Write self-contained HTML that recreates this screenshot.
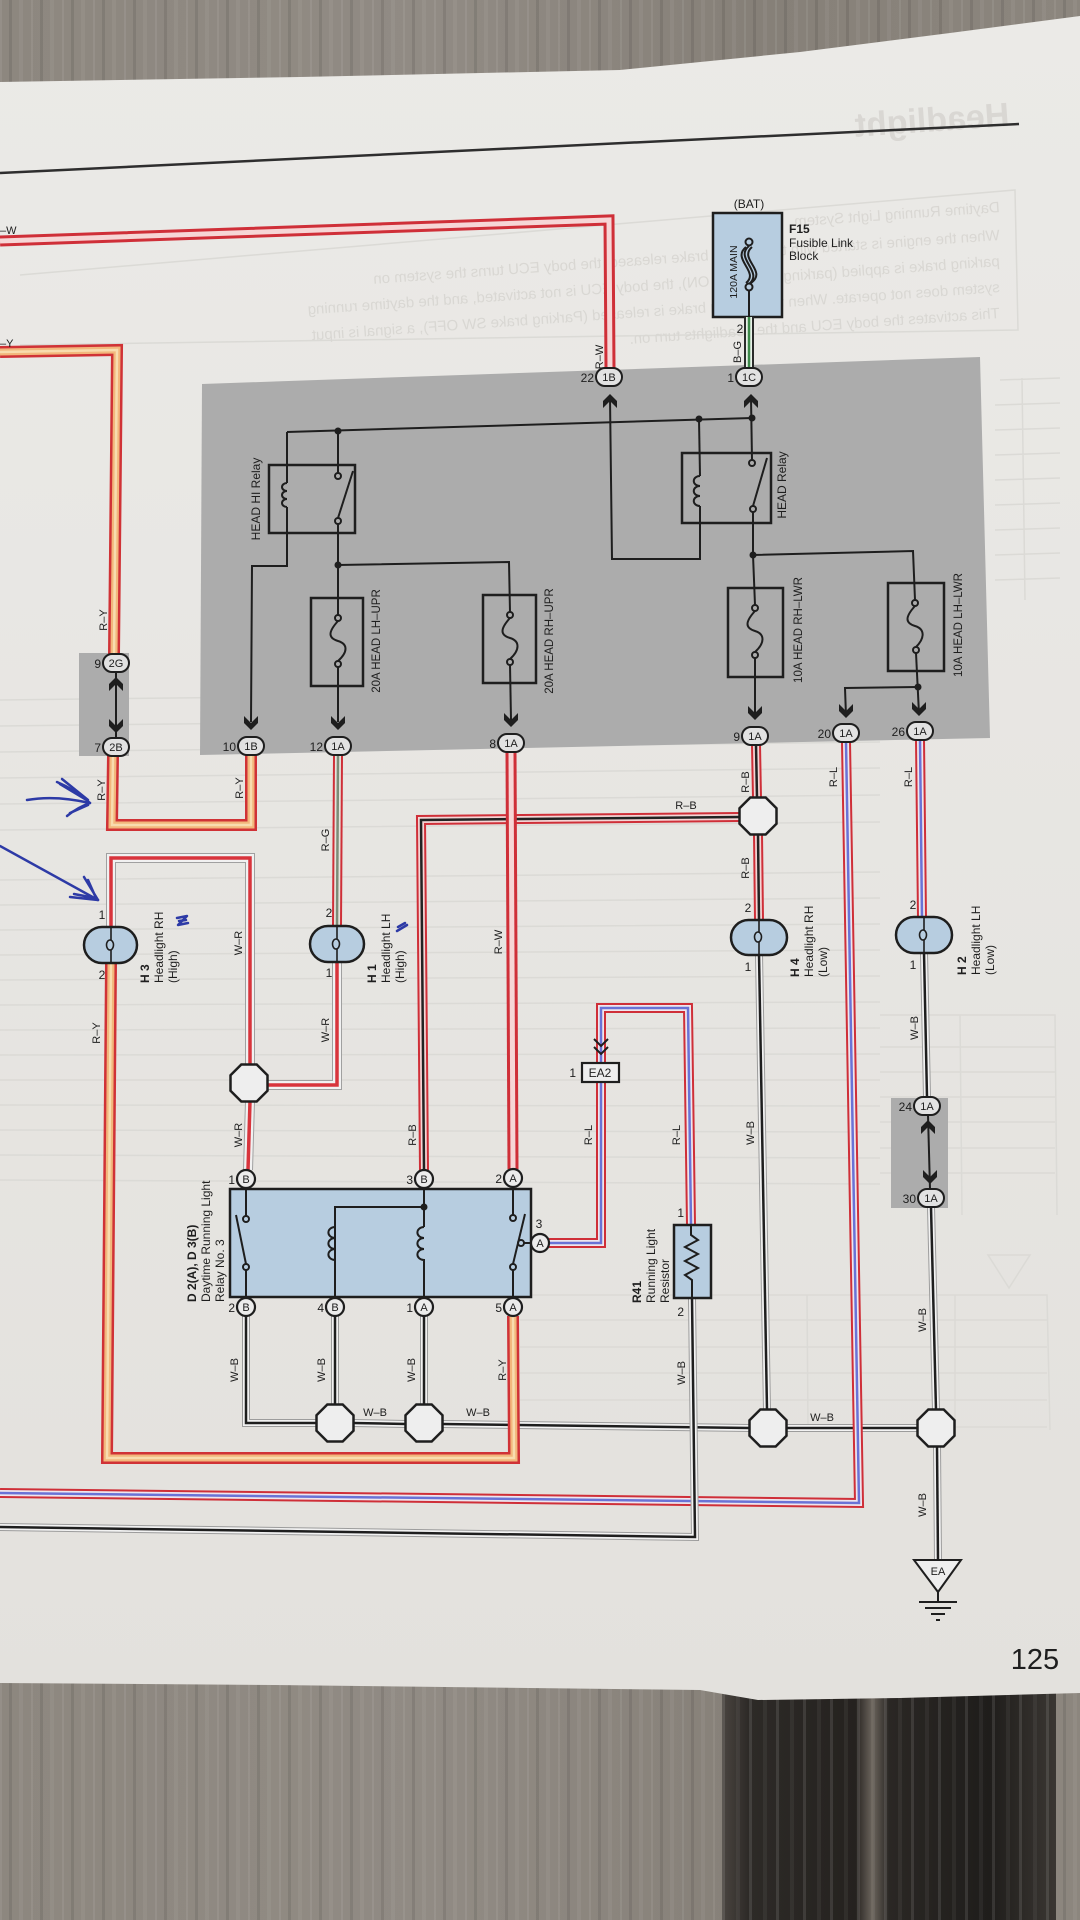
<!DOCTYPE html>
<html><head><meta charset="utf-8">
<style>
html,body{margin:0;padding:0;width:1080px;height:1920px;overflow:hidden;}
body{position:relative;background:#8a857e;}
.wood{position:absolute;left:0;top:0;width:1080px;height:1920px;
background:
repeating-linear-gradient(90deg,rgba(255,255,255,0.07) 0 2px,rgba(0,0,0,0) 2px 9px,rgba(0,0,0,0.09) 9px 12px,rgba(0,0,0,0) 12px 19px,rgba(255,255,255,0.05) 19px 23px,rgba(0,0,0,0) 23px 31px),
linear-gradient(90deg,#8d877f,#918b84 40%,#868078 70%,#8c867e);}
.dark{position:absolute;left:722px;top:1680px;width:334px;height:240px;
background:
repeating-linear-gradient(90deg,rgba(255,255,255,0.10) 0 3px,rgba(0,0,0,0) 3px 14px,rgba(255,255,255,0.05) 14px 18px,rgba(0,0,0,0) 18px 27px),
linear-gradient(90deg,#4a4540 0,#2d2a27 8%,#25221f 40%,#6b645c 45%,#2a2724 50%,#1f1d1b 80%,#3a3632 100%);}
svg{position:absolute;left:0;top:0;}
text{font-family:"Liberation Sans",Arial,sans-serif;fill:#1e1e1e;}
.wl{font-size:11px;}
.cl{font-size:12px;}
.fl{font-size:11.5px;}
.pn{font-size:12px;}
.faint{fill:#d9d7d3;}
</style></head>
<body>
<div class="wood"></div>
<div class="dark"></div>
<svg width="1080" height="1920" viewBox="0 0 1080 1920">
<defs>
<linearGradient id="pg" x1="0" y1="0" x2="0" y2="1">
<stop offset="0" stop-color="#ebeae7"/><stop offset="1" stop-color="#e3e1dd"/>
</linearGradient>
<path id="rw1" d="M0,241 L609,220 L610,368"/>
<path id="ry1" d="M0,352 L117,350 L114,654"/>
<path id="ry2" d="M113,756 L112,825 L251,825 L251,755"/>
<path id="wr1" d="M111,927 L111,858 L250,858 L250,1066"/>
<path id="ry3" d="M111,963 L107,1458 L514,1458 L513,1316"/>
<path id="rg1" d="M338,755 L337,926"/>
<path id="wr2" d="M337,962 L337,1085 L268,1085"/>
<path id="wr3" d="M250,1101 L248,1170"/>
<path id="rw2" d="M511,752 L513,1169"/>
<path id="rb1" d="M740,817 L421,820 L424,1170"/>
<path id="rb2" d="M756,745 L757,798"/>
<path id="rb3" d="M758,834 L759,920"/>
<path id="wb1" d="M759,954 L767,1410"/>
<path id="rl1" d="M846,742 L859,1503 L0,1493"/>
<path id="rl2" d="M920,740 L922,918"/>
<path id="wb2" d="M924,953 L927,1097"/>
<path id="wb3" d="M931,1207 L936,1410"/>
<path id="wb4" d="M937,1446 L938,1560"/>
<path id="wb5" d="M246,1316 L246,1423 L317,1423"/>
<path id="wb6" d="M353,1423 L406,1424"/>
<path id="wb7" d="M442,1424 L750,1428"/>
<path id="wb8" d="M786,1428 L918,1428"/>
<path id="wb9" d="M335,1316 L335,1405"/>
<path id="wb10" d="M424,1316 L424,1405"/>
<path id="wb11" d="M692,1298 L695,1537 L0,1527"/>
<path id="rl3" d="M549,1243 L601,1243 L601,1082"/>
<path id="rl4" d="M601,1063 L601,1008 L688,1008 L691,1225"/>
<path id="bg" d="M749,317 L749,369"/>
<path id="arD" d="M-7,-14 L0,-7 L7,-14 L7,-7 L0,0 L-7,-7 Z"/>
<path id="oct" d="M-7.7,-18.5 L7.7,-18.5 L18.5,-7.7 L18.5,7.7 L7.7,18.5 L-7.7,18.5 L-18.5,7.7 L-18.5,-7.7 Z"/>
</defs>

<!-- paper -->
<polygon points="0,82 300,77 620,70 800,52 950,33 1080,16 1080,1693 900,1698 758,1700 700,1690 275,1685 0,1683" fill="url(#pg)"/>

<!-- faint bleed-through -->
<g stroke="#dbdad6" stroke-width="1.5" fill="none">
<path d="M0,700 L880,690 M0,726 L880,716 M0,752 L880,742 M0,778 L880,768 M0,804 L880,795 M0,830 L880,822 M0,880 L880,872 M0,905 L880,898 M0,930 L880,924 M0,955 L880,950 M0,980 L880,976 M0,1005 L880,1002 M0,1030 L880,1028 M0,1055 L880,1054 M0,1080 L880,1080 M0,1105 L880,1106 M0,1130 L880,1132 M0,1155 L880,1158 M0,1180 L880,1184"/>
<path d="M1000,380 L1060,378 M995,405 L1060,403 M995,430 L1060,428 M995,455 L1060,453 M995,480 L1060,478 M995,505 L1060,503 M995,530 L1060,528 M995,555 L1060,553 M995,580 L1060,578 M1022,378 L1025,600"/>
<path d="M880,1015 L1055,1015 L1057,1215 M880,1047 L1055,1047 M880,1072 L1055,1072 M880,1097 L1055,1097 M880,1122 L1055,1122 M880,1148 L1055,1148 M880,1173 L1055,1173 M960,1015 L962,1215"/>
<path d="M520,1295 L1047,1295 L1050,1430 M520,1320 L1047,1320 M520,1347 L1047,1347 M520,1373 L1047,1373 M520,1400 L1047,1400 M520,1427 L1047,1427 M807,1295 L808,1427 M955,1295 L955,1427"/>
<path d="M988,1255 L1030,1255 L1009,1288 Z"/>
<path d="M20,275 L1015,190 L1018,330 L20,345"/>
</g>
<g font-size="15">
<text transform="translate(1000,212) scale(-1,1) rotate(4)" class="faint">Daytime Running Light System</text>
<text transform="translate(1000,240) scale(-1,1) rotate(4)" class="faint">When the engine is started with the parking brake released, the body ECU turns the system on</text>
<text transform="translate(1000,266) scale(-1,1) rotate(4)" class="faint">parking brake is applied (parking brake SW ON), the body ECU is not activated, and the daytime running</text>
<text transform="translate(1000,292) scale(-1,1) rotate(4)" class="faint">system does not operate. When the parking brake is released (Parking brake SW OFF), a signal is input</text>
<text transform="translate(1000,318) scale(-1,1) rotate(4)" class="faint">This activates the body ECU and the headlights turn on.</text>
<text transform="translate(1010,126) scale(-1,1) rotate(4)" class="faint" font-size="34" font-weight="bold">Headlight</text>
</g>

<!-- header line -->
<path d="M0,173 L1019,124" stroke="#2e2e2e" stroke-width="2.5" fill="none"/>

<!-- gray boxes -->
<polygon points="202,384 980,357 990,738 200,755" fill="#acacac"/>
<rect x="79" y="653" width="50" height="103" fill="#acacac"/>
<rect x="891" y="1098" width="57" height="110" fill="#acacac"/>

<!-- F15 -->
<rect x="713" y="213" width="69" height="104" fill="#b7cde0" stroke="#1e1e1e" stroke-width="2.5"/>
<g fill="none" stroke="#1e1e1e" stroke-width="2">
<circle cx="749" cy="242" r="3.5"/><circle cx="749" cy="287" r="3.5"/>
<path d="M749,246 C734,258 764,272 749,284"/>
<path d="M752,247 C738,259 768,271 751,283"/>
<path d="M746,247 C731,259 760,272 746,283"/>
<path d="M749,291 L749,317"/>
</g>

<!-- WIRES -->
<g fill="none" stroke-linejoin="miter">
<use href="#wb7" stroke="#9c9c9c" stroke-width="8"/><use href="#wb7" stroke="#f2f2f2" stroke-width="6"/><use href="#wb7" stroke="#1e1e1e" stroke-width="2.5"/>
<use href="#wb8" stroke="#9c9c9c" stroke-width="8"/><use href="#wb8" stroke="#f2f2f2" stroke-width="6"/><use href="#wb8" stroke="#1e1e1e" stroke-width="2.5"/>
<use href="#wb5" stroke="#9c9c9c" stroke-width="8"/><use href="#wb5" stroke="#f2f2f2" stroke-width="6"/><use href="#wb5" stroke="#1e1e1e" stroke-width="2.5"/>
<use href="#wb6" stroke="#9c9c9c" stroke-width="8"/><use href="#wb6" stroke="#f2f2f2" stroke-width="6"/><use href="#wb6" stroke="#1e1e1e" stroke-width="2.5"/>
<use href="#wb9" stroke="#9c9c9c" stroke-width="8"/><use href="#wb9" stroke="#f2f2f2" stroke-width="6"/><use href="#wb9" stroke="#1e1e1e" stroke-width="2.5"/>
<use href="#wb10" stroke="#9c9c9c" stroke-width="8"/><use href="#wb10" stroke="#f2f2f2" stroke-width="6"/><use href="#wb10" stroke="#1e1e1e" stroke-width="2.5"/>
<use href="#wb1" stroke="#9c9c9c" stroke-width="8"/><use href="#wb1" stroke="#f2f2f2" stroke-width="6"/><use href="#wb1" stroke="#1e1e1e" stroke-width="2.5"/>
<use href="#wb2" stroke="#9c9c9c" stroke-width="8"/><use href="#wb2" stroke="#f2f2f2" stroke-width="6"/><use href="#wb2" stroke="#1e1e1e" stroke-width="2.5"/>
<use href="#wb3" stroke="#9c9c9c" stroke-width="8"/><use href="#wb3" stroke="#f2f2f2" stroke-width="6"/><use href="#wb3" stroke="#1e1e1e" stroke-width="2.5"/>
<use href="#wb4" stroke="#9c9c9c" stroke-width="8"/><use href="#wb4" stroke="#f2f2f2" stroke-width="6"/><use href="#wb4" stroke="#1e1e1e" stroke-width="2.5"/>

<use href="#rw1" stroke="#cf2f38" stroke-width="11"/><use href="#rw1" stroke="#f6d6d6" stroke-width="5"/>
<use href="#ry1" stroke="#d03236" stroke-width="12"/><use href="#ry1" stroke="#f2b77c" stroke-width="7"/><use href="#ry1" stroke="#f8dcae" stroke-width="2.5"/>
<use href="#ry2" stroke="#d03236" stroke-width="12"/><use href="#ry2" stroke="#f2b77c" stroke-width="7"/><use href="#ry2" stroke="#f8dcae" stroke-width="2.5"/>
<use href="#ry3" stroke="#d03236" stroke-width="12"/><use href="#ry3" stroke="#f2b77c" stroke-width="7"/><use href="#ry3" stroke="#f8dcae" stroke-width="2.5"/>
<use href="#wr1" stroke="#a0a0a0" stroke-width="10"/><use href="#wr1" stroke="#f1f1f1" stroke-width="8"/><use href="#wr1" stroke="#d8343c" stroke-width="3.5"/>
<use href="#wr2" stroke="#a0a0a0" stroke-width="10"/><use href="#wr2" stroke="#f1f1f1" stroke-width="8"/><use href="#wr2" stroke="#d8343c" stroke-width="3.5"/>
<use href="#wr3" stroke="#a0a0a0" stroke-width="10"/><use href="#wr3" stroke="#f1f1f1" stroke-width="8"/><use href="#wr3" stroke="#d8343c" stroke-width="3.5"/>
<use href="#rg1" stroke="#cf2f38" stroke-width="10"/><use href="#rg1" stroke="#e6e4dc" stroke-width="6"/><use href="#rg1" stroke="#7c8c78" stroke-width="2.5"/>
<use href="#rb1" stroke="#cf2f38" stroke-width="10"/><use href="#rb1" stroke="#f4d5d5" stroke-width="6"/><use href="#rb1" stroke="#222" stroke-width="2.5"/>
<use href="#rb2" stroke="#cf2f38" stroke-width="10"/><use href="#rb2" stroke="#f4d5d5" stroke-width="6"/><use href="#rb2" stroke="#222" stroke-width="2.5"/>
<use href="#rb3" stroke="#cf2f38" stroke-width="10"/><use href="#rb3" stroke="#f4d5d5" stroke-width="6"/><use href="#rb3" stroke="#222" stroke-width="2.5"/>
<use href="#rw2" stroke="#cf2f38" stroke-width="11"/><use href="#rw2" stroke="#f6d6d6" stroke-width="5"/>
<use href="#rl1" stroke="#cf2f38" stroke-width="10"/><use href="#rl1" stroke="#eee6ee" stroke-width="6"/><use href="#rl1" stroke="#6a72d6" stroke-width="2.5"/>
<use href="#rl2" stroke="#cf2f38" stroke-width="10"/><use href="#rl2" stroke="#eee6ee" stroke-width="6"/><use href="#rl2" stroke="#6a72d6" stroke-width="2.5"/>
<use href="#rl3" stroke="#cf2f38" stroke-width="10"/><use href="#rl3" stroke="#eee6ee" stroke-width="6"/><use href="#rl3" stroke="#6a72d6" stroke-width="2.5"/>
<use href="#rl4" stroke="#cf2f38" stroke-width="10"/><use href="#rl4" stroke="#eee6ee" stroke-width="6"/><use href="#rl4" stroke="#6a72d6" stroke-width="2.5"/>
<use href="#wb11" stroke="#9c9c9c" stroke-width="8"/><use href="#wb11" stroke="#f2f2f2" stroke-width="6"/><use href="#wb11" stroke="#1e1e1e" stroke-width="2.5"/>
<use href="#bg" stroke="#2a2a2a" stroke-width="10"/><use href="#bg" stroke="#e9f2e9" stroke-width="6"/><use href="#bg" stroke="#3e8a4a" stroke-width="2.5"/>
</g>

<!-- gray box internal circuitry -->
<g fill="none" stroke="#1e1e1e" stroke-width="2">
<path d="M287,432 L752,418"/>
<path d="M287,432 L287,483"/>
<path d="M287,483 a5,4 0 1 0 0,8 a5,4 0 1 0 0,8 a5,4 0 1 0 0,8"/>
<path d="M287,507 L287,566 L252,566 L251,722"/>
<rect x="269" y="465" width="86" height="68" stroke-width="2.5"/>
<path d="M338,431 L338,473"/><circle cx="338" cy="476" r="3"/><circle cx="338" cy="521" r="3"/>
<path d="M338,518 L353,471"/>
<path d="M338,524 L338,615"/>
<circle cx="338" cy="618" r="3"/><circle cx="338" cy="664" r="3"/>
<path d="M338,621 C328,632 328,638 338,641 C348,644 348,652 338,661"/>
<path d="M338,667 L338,722"/>
<rect x="311" y="598" width="52" height="88" stroke-width="2.5"/>
<path d="M338,565 L509,562 L510,612"/>
<circle cx="510" cy="615" r="3"/><circle cx="510" cy="662" r="3"/>
<path d="M510,618 C500,629 500,635 510,638 C520,641 520,650 510,659"/>
<path d="M510,665 L511,720"/>
<rect x="483" y="595" width="53" height="88" stroke-width="2.5"/>
<path d="M610,398 L612,559 L700,559 L700,506"/>
<path d="M699,419 L700,476"/>
<path d="M700,476 a5,4 0 1 0 0,10 a5,4 0 1 0 0,10 a5,4 0 1 0 0,10"/>
<rect x="682" y="453" width="89" height="70" stroke-width="2.5"/>
<path d="M751,398 L752,460"/><circle cx="752" cy="463" r="3"/><circle cx="753" cy="509" r="3"/>
<path d="M753,506 L767,458"/>
<path d="M753,512 L753,555 L755,605"/>
<path d="M753,555 L913,551 L915,600"/>
<circle cx="755" cy="608" r="3"/><circle cx="755" cy="655" r="3"/>
<path d="M755,611 C745,622 745,628 755,631 C765,634 765,643 755,652"/>
<path d="M755,658 L755,718"/>
<rect x="728" y="588" width="55" height="89" stroke-width="2.5"/>
<circle cx="915" cy="603" r="3"/><circle cx="916" cy="650" r="3"/>
<path d="M915,606 C905,617 905,623 915,626 C925,629 925,638 916,647"/>
<path d="M916,653 L919,714"/>
<path d="M918,687 L845,688 L846,716"/>
<rect x="888" y="583" width="56" height="88" stroke-width="2.5"/>
<path d="M116,672 L116,738"/>
<path d="M928,1115 L930,1189"/>
</g>
<g fill="#1e1e1e">
<circle cx="338" cy="431" r="3.5"/><circle cx="338" cy="565" r="3.5"/>
<circle cx="699" cy="419" r="3.5"/><circle cx="752" cy="418" r="3.5"/>
<circle cx="753" cy="555" r="3.5"/><circle cx="918" cy="687" r="3.5"/>
</g>

<!-- arrowheads -->
<g fill="#1e1e1e">
<use href="#arD" transform="translate(251,730)"/>
<use href="#arD" transform="translate(338,730)"/>
<use href="#arD" transform="translate(511,727)"/>
<use href="#arD" transform="translate(755,720)"/>
<use href="#arD" transform="translate(846,718)"/>
<use href="#arD" transform="translate(919,716)"/>
<use href="#arD" transform="translate(610,394) scale(1,-1)"/>
<use href="#arD" transform="translate(751,394) scale(1,-1)"/>
<use href="#arD" transform="translate(116,677) scale(1,-1)"/>
<use href="#arD" transform="translate(116,733)"/>
<use href="#arD" transform="translate(928,1120) scale(1,-1)"/>
<use href="#arD" transform="translate(930,1184)"/>
</g>

<!-- connector pills -->
<g stroke="#1e1e1e" stroke-width="2" fill="#e2e2e2">
<rect x="596" y="368" width="26" height="18" rx="9"/>
<rect x="736" y="368" width="26" height="18" rx="9"/>
<rect x="238" y="737" width="26" height="18" rx="9"/>
<rect x="325" y="737" width="26" height="18" rx="9"/>
<rect x="498" y="734" width="26" height="18" rx="9"/>
<rect x="742" y="727" width="26" height="18" rx="9"/>
<rect x="833" y="724" width="26" height="18" rx="9"/>
<rect x="907" y="722" width="26" height="18" rx="9"/>
<rect x="103" y="654" width="26" height="18" rx="9"/>
<rect x="103" y="738" width="26" height="18" rx="9"/>
<rect x="914" y="1097" width="26" height="18" rx="9"/>
<rect x="918" y="1189" width="26" height="18" rx="9"/>
</g>
<g text-anchor="middle" font-size="11">
<text x="609" y="381" font-size="11">1B</text>
<text x="749" y="381" font-size="11">1C</text>
<text x="251" y="750" font-size="11">1B</text>
<text x="338" y="750" font-size="11">1A</text>
<text x="511" y="747" font-size="11">1A</text>
<text x="755" y="740" font-size="11">1A</text>
<text x="846" y="737" font-size="11">1A</text>
<text x="920" y="735" font-size="11">1A</text>
<text x="116" y="667" font-size="11">2G</text>
<text x="116" y="751" font-size="11">2B</text>
<text x="927" y="1110" font-size="11">1A</text>
<text x="931" y="1202" font-size="11">1A</text>
</g>
<g class="pn" text-anchor="end">
<text x="594" y="382">22</text>
<text x="734" y="382">1</text>
<text x="236" y="751">10</text>
<text x="323" y="751">12</text>
<text x="496" y="748">8</text>
<text x="740" y="741">9</text>
<text x="831" y="738">20</text>
<text x="905" y="736">26</text>
<text x="101" y="668">9</text>
<text x="101" y="752">7</text>
<text x="912" y="1111">24</text>
<text x="916" y="1203">30</text>
</g>

<!-- octagons -->
<g fill="#eeeeee" stroke="#1e1e1e" stroke-width="2.5">
<use href="#oct" transform="translate(249,1083)"/>
<use href="#oct" transform="translate(758,816)"/>
<use href="#oct" transform="translate(335,1423)"/>
<use href="#oct" transform="translate(424,1423)"/>
<use href="#oct" transform="translate(768,1428)"/>
<use href="#oct" transform="translate(936,1428)"/>
</g>

<!-- headlights -->
<g fill="#b7cde0" stroke="#1e1e1e" stroke-width="2.5">
<rect x="84" y="927" width="53" height="36" rx="18"/>
<rect x="310" y="926" width="54" height="36" rx="18"/>
<rect x="731" y="920" width="56" height="35" rx="17.5"/>
<rect x="896" y="917" width="56" height="36" rx="18"/>
</g>
<g fill="none" stroke="#1e1e1e" stroke-width="1.6">
<path d="M111,927 L111,940 M111,950 L111,963"/><ellipse cx="110" cy="945" rx="3.5" ry="5"/>
<path d="M337,926 L337,939 M337,949 L337,962"/><ellipse cx="336" cy="944" rx="3.5" ry="5"/>
<path d="M759,920 L759,932 M759,942 L759,955"/><ellipse cx="758" cy="937" rx="3.5" ry="5"/>
<path d="M924,917 L924,930 M924,940 L924,953"/><ellipse cx="923" cy="935" rx="3.5" ry="5"/>
</g>

<!-- Daytime relay -->
<rect x="230" y="1189" width="301" height="108" fill="#b7cde0" stroke="#1e1e1e" stroke-width="2.5"/>
<g fill="none" stroke="#1e1e1e" stroke-width="2">
<path d="M246,1188 L246,1216"/><circle cx="246" cy="1219" r="3"/><circle cx="246" cy="1267" r="3"/>
<path d="M246,1264 L236,1215"/><path d="M246,1270 L246,1298"/>
<path d="M335,1298 L335,1207 L424,1207"/>
<path d="M335,1227 a6,5 0 1 0 0,11 a6,5 0 1 0 0,11 a6,5 0 1 0 0,11"/>
<path d="M424,1188 L424,1227"/>
<path d="M424,1227 a6,5 0 1 0 0,11 a6,5 0 1 0 0,11 a6,5 0 1 0 0,11 L424,1298"/>
<path d="M513,1188 L513,1215"/><circle cx="513" cy="1218" r="3"/><circle cx="513" cy="1267" r="3"/>
<path d="M513,1264 L525,1214"/><path d="M513,1270 L513,1298"/>
<circle cx="521" cy="1243" r="3"/><path d="M524,1243 L531,1243"/>
</g>
<circle cx="424" cy="1207" r="3.5" fill="#1e1e1e"/>
<g fill="#ececec" stroke="#1e1e1e" stroke-width="2.2">
<circle cx="246" cy="1179" r="9"/><circle cx="424" cy="1179" r="9"/><circle cx="513" cy="1178" r="9"/>
<circle cx="246" cy="1307" r="9"/><circle cx="335" cy="1307" r="9"/><circle cx="424" cy="1307" r="9"/><circle cx="513" cy="1307" r="9"/>
<circle cx="540" cy="1243" r="9"/>
</g>
<g text-anchor="middle" font-size="11">
<text x="246" y="1183" font-size="11">B</text><text x="424" y="1183" font-size="11">B</text><text x="513" y="1182" font-size="11">A</text>
<text x="246" y="1311" font-size="11">B</text><text x="335" y="1311" font-size="11">B</text><text x="424" y="1311" font-size="11">A</text><text x="513" y="1311" font-size="11">A</text>
<text x="540" y="1247" font-size="11">A</text>
</g>
<g class="pn" text-anchor="end">
<text x="235" y="1184">1</text><text x="413" y="1184">3</text><text x="502" y="1183">2</text>
<text x="235" y="1312">2</text><text x="324" y="1312">4</text><text x="413" y="1312">1</text><text x="502" y="1312">5</text>
</g>
<text x="539" y="1228" class="pn" text-anchor="middle">3</text>

<!-- EA2 -->
<rect x="582" y="1063" width="37" height="19" fill="#eeeeee" stroke="#1e1e1e" stroke-width="2.2"/>
<text x="600" y="1077" text-anchor="middle" font-size="12">EA2</text>
<text x="576" y="1077" text-anchor="end" class="pn">1</text>
<g fill="none" stroke="#1e1e1e" stroke-width="2">
<path d="M594,1039 L601,1046 L608,1039 M594,1047 L601,1054 L608,1047"/>
</g>

<!-- R41 -->
<rect x="674" y="1225" width="37" height="73" fill="#b7cde0" stroke="#1e1e1e" stroke-width="2.5"/>
<path d="M691,1225 L691,1235 L698,1240 L685,1247 L698,1254 L685,1261 L698,1268 L685,1275 L692,1280 L692,1298" fill="none" stroke="#1e1e1e" stroke-width="2"/>
<text x="684" y="1217" class="pn" text-anchor="end">1</text>
<text x="684" y="1316" class="pn" text-anchor="end">2</text>

<!-- ground -->
<polygon points="914,1560 961,1560 938,1592" fill="#eeeeee" stroke="#1e1e1e" stroke-width="2"/>
<text x="938" y="1575" text-anchor="middle" font-size="11">EA</text>
<g stroke="#1e1e1e" stroke-width="2">
<path d="M938,1592 L938,1602 M919,1602 L957,1602 M925,1608 L951,1608 M931,1614 L945,1614 M936,1620 L940,1620"/>
</g>

<!-- rotated wire labels -->
<g class="wl" text-anchor="middle">
<text transform="translate(603,357) rotate(-90)">R–W</text>
<text transform="translate(741,352) rotate(-90)">B–G</text>
<text transform="translate(107,620) rotate(-90)">R–Y</text>
<text transform="translate(105,790) rotate(-90)">R–Y</text>
<text transform="translate(243,788) rotate(-90)">R–Y</text>
<text transform="translate(100,1033) rotate(-90)">R–Y</text>
<text transform="translate(506,1370) rotate(-90)">R–Y</text>
<text transform="translate(242,943) rotate(-90)">W–R</text>
<text transform="translate(329,1030) rotate(-90)">W–R</text>
<text transform="translate(242,1135) rotate(-90)">W–R</text>
<text transform="translate(329,840) rotate(-90)">R–G</text>
<text transform="translate(502,942) rotate(-90)">R–W</text>
<text transform="translate(416,1135) rotate(-90)">R–B</text>
<text transform="translate(749,782) rotate(-90)">R–B</text>
<text transform="translate(749,868) rotate(-90)">R–B</text>
<text transform="translate(837,777) rotate(-90)">R–L</text>
<text transform="translate(912,777) rotate(-90)">R–L</text>
<text transform="translate(592,1135) rotate(-90)">R–L</text>
<text transform="translate(680,1135) rotate(-90)">R–L</text>
<text transform="translate(754,1133) rotate(-90)">W–B</text>
<text transform="translate(918,1028) rotate(-90)">W–B</text>
<text transform="translate(238,1370) rotate(-90)">W–B</text>
<text transform="translate(325,1370) rotate(-90)">W–B</text>
<text transform="translate(415,1370) rotate(-90)">W–B</text>
<text transform="translate(685,1373) rotate(-90)">W–B</text>
<text transform="translate(926,1320) rotate(-90)">W–B</text>
<text transform="translate(926,1505) rotate(-90)">W–B</text>
<text x="686" y="809">R–B</text>
<text x="375" y="1416">W–B</text>
<text x="478" y="1416">W–B</text>
<text x="822" y="1421">W–B</text>
</g>
<text x="0" y="234" class="wl">–W</text>
<text x="0" y="347" class="wl">–Y</text>

<!-- pin numbers on lights -->
<g class="pn" text-anchor="middle">
<text x="102" y="919">1</text><text x="102" y="979">2</text>
<text x="329" y="917">2</text><text x="329" y="977">1</text>
<text x="748" y="912">2</text><text x="748" y="971">1</text>
<text x="913" y="909">2</text><text x="913" y="969">1</text>
<text x="740" y="333">2</text>
</g>

<!-- component labels -->
<text x="749" y="208" class="cl" text-anchor="middle">(BAT)</text>
<text transform="translate(737,272) rotate(-90)" text-anchor="middle" font-size="10.5">120A MAIN</text>
<text x="789" y="233" class="cl" font-weight="bold">F15</text>
<text x="789" y="247" class="cl">Fusible Link</text>
<text x="789" y="260" class="cl">Block</text>

<text transform="translate(260,499) rotate(-90)" text-anchor="middle" class="cl">HEAD HI Relay</text>
<text transform="translate(380,641) rotate(-90)" text-anchor="middle" class="fl">20A HEAD LH–UPR</text>
<text transform="translate(553,641) rotate(-90)" text-anchor="middle" class="fl">20A HEAD RH–UPR</text>
<text transform="translate(786,485) rotate(-90)" text-anchor="middle" class="cl">HEAD Relay</text>
<text transform="translate(802,630) rotate(-90)" text-anchor="middle" class="fl">10A HEAD RH–LWR</text>
<text transform="translate(962,625) rotate(-90)" text-anchor="middle" class="fl">10A HEAD LH–LWR</text>

<text transform="translate(149,983) rotate(-90)" class="cl"><tspan x="0" y="0" font-weight="bold">H 3</tspan><tspan x="0" y="14">Headlight RH</tspan><tspan x="0" y="28">(High)</tspan></text>
<text transform="translate(376,983) rotate(-90)" class="cl"><tspan x="0" y="0" font-weight="bold">H 1</tspan><tspan x="0" y="14">Headlight LH</tspan><tspan x="0" y="28">(High)</tspan></text>
<text transform="translate(799,977) rotate(-90)" class="cl"><tspan x="0" y="0" font-weight="bold">H 4</tspan><tspan x="0" y="14">Headlight RH</tspan><tspan x="0" y="28">(Low)</tspan></text>
<text transform="translate(966,975) rotate(-90)" class="cl"><tspan x="0" y="0" font-weight="bold">H 2</tspan><tspan x="0" y="14">Headlight LH</tspan><tspan x="0" y="28">(Low)</tspan></text>
<text transform="translate(196,1302) rotate(-90)" class="cl"><tspan x="0" y="0" font-weight="bold">D 2(A), D 3(B)</tspan><tspan x="0" y="14">Daytime Running Light</tspan><tspan x="0" y="28">Relay No. 3</tspan></text>
<text transform="translate(641,1303) rotate(-90)" class="cl"><tspan x="0" y="0" font-weight="bold">R41</tspan><tspan x="0" y="14">Running Light</tspan><tspan x="0" y="28">Resistor</tspan></text>

<text x="1035" y="1669" text-anchor="middle" font-size="29">125</text>

<!-- blue pen marks -->
<g fill="none" stroke="#2d3aa6" stroke-width="2.5" stroke-linecap="round" stroke-linejoin="round">
<path d="M27,800 Q55,795 90,803"/>
<path d="M57,782 Q76,790 90,803 Q78,807 67,816"/>
<path d="M62,779 L88,800 M70,813 L88,805 M60,784 L85,799"/>
<path d="M0,846 L98,900"/>
<path d="M84,877 L98,900 L70,897 M88,880 L96,898 M74,894 L95,898"/>
<path d="M177,918 L187,916 L178,925 L188,923 M179,921 L186,920"/>
<path d="M397,931 L407,925 M398,927 L405,923"/>
</g>
</svg>
</body></html>
